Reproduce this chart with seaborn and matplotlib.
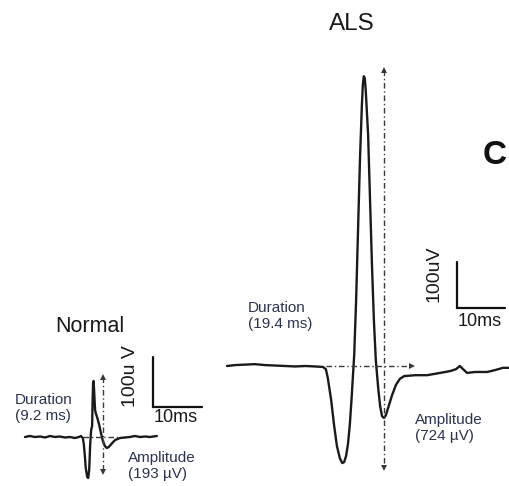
import matplotlib
matplotlib.use("Agg")
import matplotlib.pyplot as plt
import seaborn as sns
import pandas as pd

# ---------------- data (ms, µV) ----------------
normal_t = [0, 1.0, 2.0, 3.1, 4.1, 5.1, 6.1, 7.1, 8.2, 9.2, 10.2, 11.0, 11.4, 11.8,
            12.0, 12.2, 12.4, 12.7, 12.9, 13.1, 13.3, 13.5, 13.7, 13.8, 13.9, 14.0,
            14.1, 14.3, 14.5, 14.7, 15.1, 15.5, 15.9, 16.3, 16.7, 17.1, 17.8, 18.4,
            19.4, 20.4, 21.4, 22.4, 23.5, 24.5, 25.5, 26.9]
normal_v = [0, 2, 0, 1, -1, 2, 0, 1, -1, 0, -2, 0, 2, -2,
            -14, -36, -62, -80, -82, -66, -16, 14, 22, 74, 108, 112,
            94, 54, 46, 40, 26, 8, -8, -18, -22, -20, -12, -6,
            -2, -1, 0, 2, 0, 1, 0, 2]

als_t = [0, 1.7, 3.75, 5.8, 7.9, 10.0, 12.1, 14.2, 16.3, 18.3, 20.0, 20.6, 21.0,
         21.7, 22.3, 22.9, 23.5, 24.0, 24.4, 24.8, 25.2, 25.6, 26.0, 26.5, 26.9,
         27.3, 27.7, 28.1, 28.3, 28.5, 28.7, 28.9, 29.4, 29.8, 30.2, 30.6, 31.0,
         31.5, 31.9, 32.3, 32.7, 33.1, 33.75, 34.4, 35.2, 36.0, 36.9, 39.2, 41.7,
         44.4, 46.5, 47.7, 48.5, 49.2, 50.0, 51.7, 54.2, 55.8, 57.5, 58.75]
als_v = [0, 2, 3, 4, 2, 1, 0, -1, 0, -1, -2, -7, -26,
         -74, -128, -174, -200, -211, -209, -196, -170, -126, -63, 24, 143,
         296, 448, 567, 611, 630, 626, 600, 502, 361, 220, 100, 13,
         -48, -87, -109, -113, -107, -85, -63, -41, -28, -22, -20, -20,
         -15, -11, -7, 0, -7, -15, -13, -13, -9, -4, -4]

panel_titles = ["Normal", "ALS"]
duration_labels = ["Duration\n(9.2 ms)", "Duration\n(19.4 ms)"]
amplitude_labels = ["Amplitude\n(193 µV)", "Amplitude\n(724 µV)"]
scale_uv = 100
scale_ms = 10
scale_labels_v = ["100u V", "100uV"]
scale_labels_h = ["10ms", "10ms"]
panel_letter = "C"

# measurement markers (ms / µV)
normal_dur = (11.8, 19.4)
normal_amp_t, normal_amp = 15.9, (120, -70)
als_dur = (20.6, 38.5)
als_amp_t, als_amp = 32.7, (643, -222)
normal_bar = (26.1, 60)
als_bar = (47.9, 126)

# ---------------- figure ----------------
sns.set_style("white")
plt.rcParams["font.family"] = ["Liberation Sans", "DejaVu Sans"]
W, H = 510, 486
fig = plt.figure(figsize=(W / 100, H / 100), dpi=100)

def make_ax(x0_px, base_px, px_ms, px_uv):
    ax = fig.add_axes([0, 0, 1, 1])
    ax.set_xlim(-x0_px / px_ms, (W - x0_px) / px_ms)
    ax.set_ylim(-(H - base_px) / px_uv, base_px / px_uv)
    ax.axis("off")
    ax.patch.set_alpha(0)
    return ax

ax_n = make_ax(25, 437, 4.9, 0.5)
ax_a = make_ax(227, 366, 4.8, 0.46)

wave_color = "#1a1a1a"
dash_color = "#3a3a3a"
dash_style = (0, (4, 2, 1, 2))

def draw(ax, t, v, dur, amp_t, amp, bar, arrow_right):
    df = pd.DataFrame({"t": t, "v": v})
    sns.lineplot(data=df, x="t", y="v", ax=ax, color=wave_color, lw=1.7,
                 sort=False, estimator=None)
    # duration dashed line
    ax.plot(list(dur), [0, 0], color=dash_color, lw=1.0, ls=dash_style)
    if arrow_right:
        ax.plot([dur[1]], [0], marker=">", color=dash_color, ms=5, mew=0)
    # amplitude dashed arrow
    ax.plot([amp_t, amp_t], list(amp), color=dash_color, lw=1.0, ls=dash_style)
    ax.plot([amp_t], [amp[0]], marker="^", color=dash_color, ms=5, mew=0)
    ax.plot([amp_t], [amp[1]], marker="v", color=dash_color, ms=5, mew=0)
    # scale bar
    bx, by = bar
    ax.plot([bx, bx, bx + scale_ms], [by + scale_uv, by, by],
            color="#111111", lw=1.6, solid_joinstyle="miter")

draw(ax_n, normal_t, normal_v, normal_dur, normal_amp_t, normal_amp, normal_bar, False)
draw(ax_a, als_t, als_v, als_dur, als_amp_t, als_amp, als_bar, True)

def ftext(x, y, s, **kw):
    fig.text(x / W, 1 - y / H, s, **kw)

title_c = "#1a1a1a"
lab_c = "#2b3352"
ftext(90, 326, panel_titles[0], ha="center", va="center", fontsize=15.5, color=title_c)
ftext(352, 24, panel_titles[1], ha="center", va="center", fontsize=17.5, color=title_c)

ftext(131, 376, scale_labels_v[0], ha="center", va="center", rotation=90, fontsize=14, color=title_c)
ftext(434, 274, scale_labels_v[1], ha="center", va="center", rotation=90, fontsize=14, color=title_c)
ftext(176, 418, scale_labels_h[0], ha="center", va="center", fontsize=13, color=title_c)
ftext(480, 322, scale_labels_h[1], ha="center", va="center", fontsize=13, color=title_c)

ftext(15, 408, duration_labels[0], ha="left", va="center", fontsize=11, color=lab_c, linespacing=1.25)
ftext(128, 466, amplitude_labels[0], ha="left", va="center", fontsize=11, color=lab_c, linespacing=1.25)
ftext(248, 316, duration_labels[1], ha="left", va="center", fontsize=11, color=lab_c, linespacing=1.25)
ftext(415, 428, amplitude_labels[1], ha="left", va="center", fontsize=11, color=lab_c, linespacing=1.25)

ftext(507, 156, panel_letter, ha="right", va="center", fontsize=24, fontweight="bold", color="#111111")

fig.savefig("out.png", dpi=100)
